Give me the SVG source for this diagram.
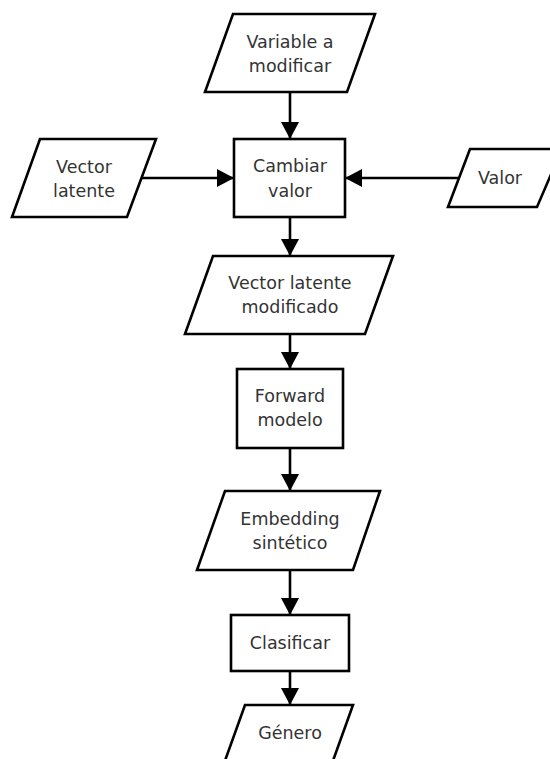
<svg xmlns="http://www.w3.org/2000/svg" width="550" height="759" viewBox="0 0 550 759">
  <style>
    .shape { fill: #ffffff; stroke: #000000; stroke-width: 2.6; stroke-linejoin: miter; }
    .label { font-family: "DejaVu Sans", sans-serif; font-size: 17.5px; fill: #333333; text-anchor: middle; }
    .edge { stroke: #000000; stroke-width: 2.6; fill: none; marker-end: url(#arrow); }
  </style>
  <defs>
    <marker id="arrow" markerUnits="userSpaceOnUse" markerWidth="17" markerHeight="18" refX="17" refY="9" orient="auto" viewBox="0 0 17 18">
      <path d="M0,0 L17,9 L0,18 z" fill="#000000"/>
    </marker>
  </defs>

  <!-- connectors -->
  <g id="connectors">
    <line class="edge" x1="290" y1="92" x2="290" y2="139"/>
    <line class="edge" x1="142" y1="178" x2="234" y2="178"/>
    <line class="edge" x1="459" y1="178" x2="345" y2="178"/>
    <line class="edge" x1="290" y1="217" x2="290" y2="256"/>
    <line class="edge" x1="290" y1="334" x2="290" y2="369"/>
    <line class="edge" x1="290" y1="448" x2="290" y2="491"/>
    <line class="edge" x1="290" y1="570" x2="290" y2="615"/>
    <line class="edge" x1="290" y1="671" x2="290" y2="705"/>
  </g>

  <!-- input: variable to modify -->
  <g id="variable">
    <polygon class="shape" points="233,14 375,14 347,92 205,92"/>
    <text class="label" x="290" y="48">Variable a</text>
    <text class="label" x="290" y="72">modificar</text>
  </g>

  <!-- input: latent vector -->
  <g id="vector-latente">
    <polygon class="shape" points="40,139 156,139 127,217 12,217"/>
    <text class="label" x="84" y="173">Vector</text>
    <text class="label" x="84" y="197">latente</text>
  </g>

  <!-- input: value -->
  <g id="valor">
    <polygon class="shape" points="470,149 562,149 537,207 448,207"/>
    <text class="label" x="500" y="184">Valor</text>
  </g>

  <!-- process: change value -->
  <g id="cambiar">
    <rect class="shape" x="234" y="139" width="111" height="78"/>
    <text class="label" x="290" y="172">Cambiar</text>
    <text class="label" x="290" y="197">valor</text>
  </g>

  <!-- data: modified latent vector -->
  <g id="vector-modificado">
    <polygon class="shape" points="213,256 393,256 365,334 185,334"/>
    <text class="label" x="290" y="289">Vector latente</text>
    <text class="label" x="290" y="313">modificado</text>
  </g>

  <!-- process: model forward pass -->
  <g id="forward">
    <rect class="shape" x="237" y="369" width="106" height="79"/>
    <text class="label" x="290" y="402">Forward</text>
    <text class="label" x="290" y="426">modelo</text>
  </g>

  <!-- data: synthetic embedding -->
  <g id="embedding">
    <polygon class="shape" points="225,491 380,491 353,570 197,570"/>
    <text class="label" x="290" y="525">Embedding</text>
    <text class="label" x="290" y="549">sintético</text>
  </g>

  <!-- process: classify -->
  <g id="clasificar">
    <rect class="shape" x="231" y="615" width="118" height="56"/>
    <text class="label" x="290" y="649">Clasificar</text>
  </g>

  <!-- output: gender -->
  <g id="genero">
    <polygon class="shape" points="245,705 353,705 325,783 217,783"/>
    <text class="label" x="290" y="739">Género</text>
  </g>
</svg>
